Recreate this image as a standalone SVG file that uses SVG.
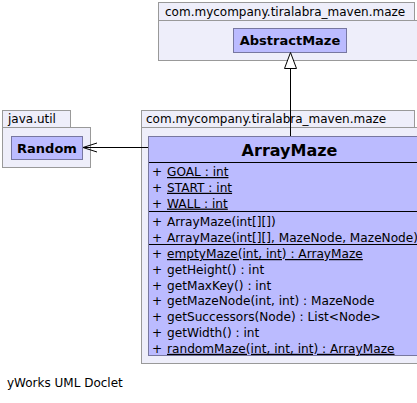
<svg xmlns="http://www.w3.org/2000/svg" width="417" height="403" viewBox="0 0 417 403">
<style>
.pkg{fill:#eeeefa;stroke:#999999;stroke-width:1}
.cls{fill:#bbbbff;stroke:#7777a0;stroke-width:1}
.sep{stroke:#000000;stroke-width:1}
.lbl{font-family:"DejaVu Sans",sans-serif;font-size:12px;fill:#000}
.mem{font-family:"DejaVu Sans",sans-serif;font-size:12.15px;fill:#000}
.ttl{font-family:"DejaVu Sans",sans-serif;font-weight:bold;fill:#000}
.u{text-decoration:underline}
.edge{stroke:#000;stroke-width:1;fill:none}
</style>
<rect width="417" height="403" fill="#ffffff"/>
<g id="pkg-maze-top">
<rect class="pkg" x="158.5" y="2.5" width="256" height="18"/>
<rect class="pkg" x="158.5" y="20.5" width="270" height="40"/>
<text class="lbl" x="165" y="16">com.mycompany.tiralabra_maven.maze</text>
</g>
<g id="pkg-java-util">
<rect class="pkg" x="2.5" y="110.5" width="68" height="17"/>
<rect class="pkg" x="2.5" y="127.5" width="88" height="40"/>
<text class="lbl" x="8" y="123">java.util</text>
</g>
<g id="pkg-maze">
<rect class="pkg" x="141.5" y="110.5" width="273" height="17"/>
<rect class="pkg" x="141.5" y="127.5" width="290" height="236"/>
<text class="lbl" x="146" y="123">com.mycompany.tiralabra_maven.maze</text>
</g>
<g id="AbstractMaze">
<rect class="cls" x="233.5" y="28.5" width="113" height="24"/>
<text class="ttl" x="290" y="45" font-size="13" text-anchor="middle">AbstractMaze</text>
</g>
<g id="Random">
<rect class="cls" x="11.5" y="136.5" width="71" height="23"/>
<text class="ttl" x="47" y="153" font-size="13" text-anchor="middle">Random</text>
</g>
<g id="ArrayMaze">
<rect class="cls" x="148.5" y="136.5" width="282" height="219"/>
<text class="ttl" x="289.5" y="155.5" font-size="16" text-anchor="middle">ArrayMaze</text>
<line class="sep" x1="149" y1="162.5" x2="431" y2="162.5"/>
<line class="sep" x1="149" y1="211.5" x2="431" y2="211.5"/>
<line class="sep" x1="149" y1="244.5" x2="431" y2="244.5"/>
<g class="mem">
<text x="152" y="176">+</text><text x="167" y="176" class="u">GOAL : int</text>
<text x="152" y="191.8">+</text><text x="167" y="191.8" class="u">START : int</text>
<text x="152" y="207.6">+</text><text x="167" y="207.6" class="u">WALL : int</text>
<text x="152" y="226">+</text><text x="167" y="226">ArrayMaze(int[][])</text>
<text x="152" y="241.8">+</text><text x="167" y="241.8">ArrayMaze(int[][], MazeNode, MazeNode)</text>
<text x="152" y="258">+</text><text x="167" y="258" class="u">emptyMaze(int, int) : ArrayMaze</text>
<text x="152" y="273.8">+</text><text x="167" y="273.8">getHeight() : int</text>
<text x="152" y="289.6">+</text><text x="167" y="289.6">getMaxKey() : int</text>
<text x="152" y="305.4">+</text><text x="167" y="305.4">getMazeNode(int, int) : MazeNode</text>
<text x="152" y="321.2">+</text><text x="167" y="321.2">getSuccessors(Node) : List&lt;Node&gt;</text>
<text x="152" y="337">+</text><text x="167" y="337">getWidth() : int</text>
<text x="152" y="352.8">+</text><text x="167" y="352.8" class="u">randomMaze(int, int, int) : ArrayMaze</text>
</g>
</g>
<g id="connectors">
<line class="edge" x1="290.5" y1="68" x2="290.5" y2="136"/>
<polygon points="290.5,52.5 284.5,68.5 296.5,68.5" fill="#ffffff" stroke="#000" stroke-width="1"/>
<line class="edge" x1="148" y1="147.5" x2="83" y2="147.5"/>
<polyline class="edge" points="97,143 83,147.5 97,152"/>
</g>
<text class="lbl" x="7" y="387">yWorks UML Doclet</text>
</svg>
